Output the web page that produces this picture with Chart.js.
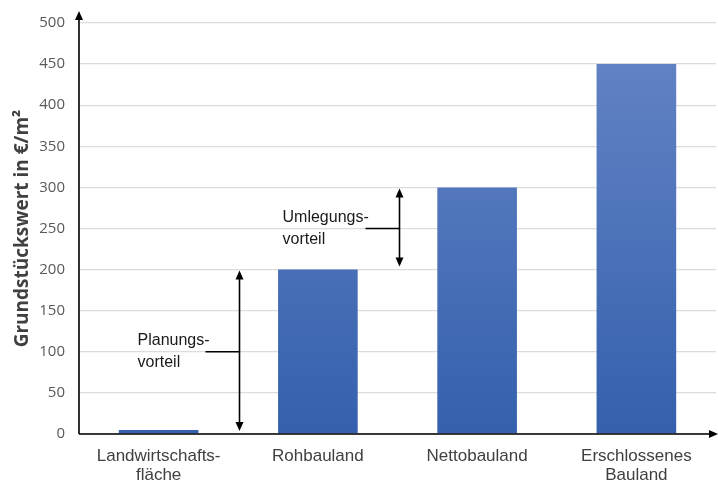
<!DOCTYPE html>
<html>
<head>
<meta charset="utf-8">
<script src="https://cdn.jsdelivr.net/npm/chart.js@4"></script>
<style>
  html, body { margin: 0; padding: 0; background: #fff; }
  #wrap { width: 718px; height: 483px; }
</style>
</head>
<body>
<div id="wrap"><canvas id="chart" width="718" height="483"></canvas></div>
<script>
const categories = [["Landwirtschafts-", "fläche"], "Rohbauland", "Nettobauland", ["Erschlossenes", "Bauland"]];
const values = [5, 200, 300, 450];
const yTicks = [0, 50, 100, 150, 200, 250, 300, 350, 400, 450, 500];

// value brackets drawn between categories
const bracketX = [0.5, 1.5];
const bracketFrom = [0, 200];
const bracketTo = [200, 300];
const bracketMid = [100, 250];
const bracketLabels = [["Planungs-", "vorteil"], ["Umlegungs-", "vorteil"]];
const labelOffset = [102, 117]; // px left of the arrow

function barGradient(ctx) {
  const area = ctx.chart.chartArea;
  if (!area) return "#4a6fb8";
  const g = ctx.chart.ctx.createLinearGradient(0, area.top, 0, area.bottom);
  g.addColorStop(0, "#6686c6");
  g.addColorStop(1, "#3460ad");
  return g;
}

function arrowHead(c, x, y, dir) {
  c.beginPath();
  if (dir === "up") { c.moveTo(x, y); c.lineTo(x - 4, y + 9); c.lineTo(x + 4, y + 9); }
  if (dir === "down") { c.moveTo(x, y); c.lineTo(x - 4, y - 9); c.lineTo(x + 4, y - 9); }
  if (dir === "right") { c.moveTo(x, y); c.lineTo(x - 9, y - 4); c.lineTo(x - 9, y + 4); }
  c.closePath();
  c.fill();
}

const overlay = {
  id: "overlay",
  afterDatasetsDraw(chart) {
    const c = chart.ctx;
    const xs = chart.scales.x, ys = chart.scales.y;
    const a = chart.chartArea;
    c.save();
    c.strokeStyle = "#000";
    c.fillStyle = "#000";
    c.lineWidth = 1.6;
    // axes with arrows
    c.beginPath();
    c.moveTo(a.left, a.bottom);
    c.lineTo(a.left, 14);
    c.moveTo(a.left, a.bottom);
    c.lineTo(716, a.bottom);
    c.stroke();
    arrowHead(c, a.left, 11, "up");
    arrowHead(c, 718, a.bottom, "right");

    c.font = "16px 'Liberation Sans', Arial, sans-serif";
    c.textAlign = "left";
    c.textBaseline = "middle";
    bracketX.forEach((bx, i) => {
      const px = Math.round(xs.getPixelForValue(bx)) + 1.5;
      const y1 = ys.getPixelForValue(bracketFrom[i]) - 3;
      const y2 = ys.getPixelForValue(bracketTo[i]) + 1;
      const ym = ys.getPixelForValue(bracketMid[i]);
      c.fillStyle = "#000";
      c.beginPath();
      c.moveTo(px, y1 - 6);
      c.lineTo(px, y2 + 6);
      c.moveTo(px, ym);
      c.lineTo(px - 34, ym);
      c.stroke();
      arrowHead(c, px, y2, "up");
      arrowHead(c, px, y1, "down");
      c.fillStyle = "#1a1a1a";
      c.fillText(bracketLabels[i][0], px - labelOffset[i], ym - 11);
      c.fillText(bracketLabels[i][1], px - labelOffset[i], ym + 11);
    });
    c.restore();
  }
};

new Chart(document.getElementById("chart"), {
  type: "bar",
  data: {
    labels: categories,
    datasets: [{
      data: values,
      backgroundColor: barGradient,
      borderWidth: 0,
      categoryPercentage: 1,
      barPercentage: 0.5
    }]
  },
  options: {
    responsive: false,
    animation: false,
    layout: { padding: { top: 23, right: 2, left: 11, bottom: 0 } },
    plugins: { legend: { display: false }, tooltip: { enabled: false } },
    scales: {
      x: {
        border: { display: false },
        grid: { display: false, drawTicks: false },
        ticks: {
          color: "#404040",
          font: { family: "'Liberation Sans', Arial, sans-serif", size: 17, lineHeight: 1.12 },
          padding: 13,
          maxRotation: 0,
          autoSkip: false
        },
        afterFit(scale) { scale.height = 49; }
      },
      y: {
        min: 0,
        max: 500,
        afterBuildTicks(scale) { scale.ticks = yTicks.map(v => ({ value: v })); },
        border: { display: false },
        grid: { color: "#dcdcdc", lineWidth: 1.3, drawTicks: false },
        ticks: {
          color: "#595959",
          font: { family: "'Open Sans', sans-serif", size: 15 },
          padding: 14
        },
        title: {
          display: true,
          text: "Grundstückswert in €/m²",
          color: "#404040",
          font: { family: "'Open Sans', sans-serif", size: 19, weight: "bold" },
          padding: { top: 0, bottom: 2 }
        },
        afterFit(scale) { scale.width = 68; }
      }
    }
  },
  plugins: [overlay]
});
</script>
</body>
</html>
